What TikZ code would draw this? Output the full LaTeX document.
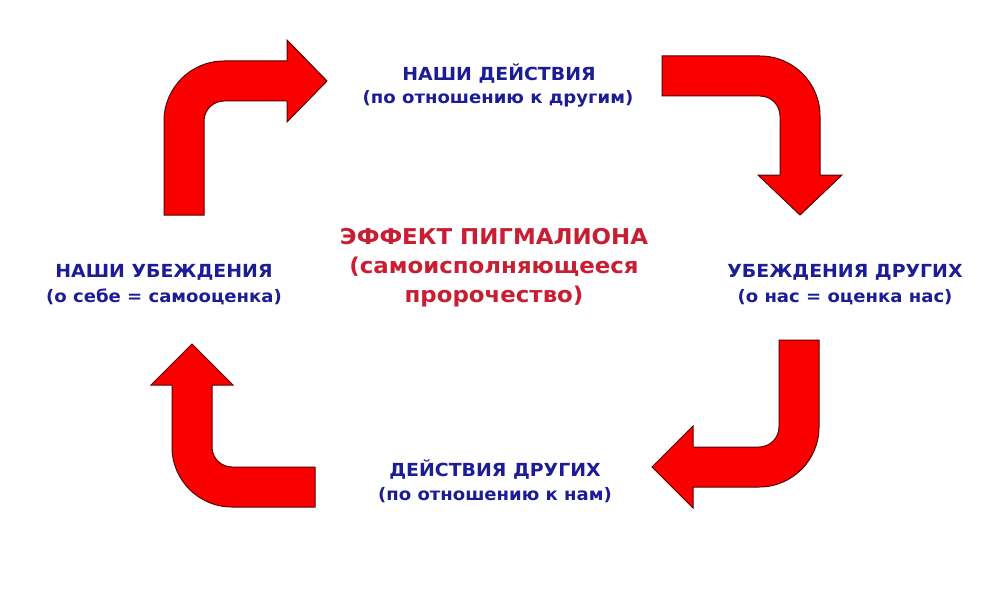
\documentclass[tikz,border=0pt]{standalone}
\usepackage{fontspec}
\newfontfamily\lab{DejaVu Sans Bold}[FakeStretch=1.05]
\definecolor{labblue}{RGB}{28,28,150}
\definecolor{labred}{RGB}{200,30,50}
\definecolor{arrred}{RGB}{250,0,0}
\definecolor{arredge}{RGB}{90,0,0}
\begin{document}
\begin{tikzpicture}[x=1pt,y=-1pt,
  bigarrow/.style={fill=arrred,draw=arredge,line width=1pt,line join=miter},
  lbl/.style={text=labblue,font=\lab\fontsize{18}{22}\selectfont,inner sep=0pt,anchor=center},
  sub/.style={text=labblue,font=\lab\fontsize{17.2}{21}\selectfont,inner sep=0pt,anchor=center},
  ctr/.style={text=labred,font=\lab\fontsize{21.8}{26}\selectfont,inner sep=0pt,anchor=center}]
\useasboundingbox[fill=white] (0,0) rectangle (1000,591);
% top-left arrow
\path[bigarrow] (164,215) -- (164,121) arc[start angle=180,end angle=270,radius=60]
  -- (287,61) -- (287,40) -- (327,81) -- (287,122) -- (287,101) -- (224,101)
  arc[start angle=270,end angle=180,radius=20] -- (204,215) -- cycle;
% top-right arrow
\path[bigarrow] (662,56) -- (760,56) arc[start angle=270,end angle=360,radius=60]
  -- (820,175) -- (842,175) -- (800,215) -- (758,175) -- (780,175) -- (780,116)
  arc[start angle=0,end angle=-90,radius=20] -- (662,96) -- cycle;
% bottom-right arrow
\path[bigarrow] (779,340) -- (779,427) arc[start angle=0,end angle=90,radius=20]
  -- (693,447) -- (693,426) -- (652,467) -- (693,508) -- (693,487) -- (759,487)
  arc[start angle=90,end angle=0,radius=60] -- (819,340) -- cycle;
% bottom-left arrow
\path[bigarrow] (315,467) -- (232,467) arc[start angle=90,end angle=180,radius=20]
  -- (212,385) -- (233,385) -- (192,344) -- (151,385) -- (172,385) -- (172,447)
  arc[start angle=180,end angle=90,radius=60] -- (315,507) -- cycle;
% labels
\node[lbl] (top) at (499,74) {НАШИ ДЕЙСТВИЯ};
\node[sub] (tops) at (498,99) {(по отношению к другим)};
\node[ctr] (c1) at (494,237) {ЭФФЕКТ ПИГМАЛИОНА};
\node[ctr] (c2) at (494,267) {(самоисполняющееся};
\node[ctr] (c3) at (494,296) {пророчество)};
\node[lbl] (left) at (164,272) {НАШИ УБЕЖДЕНИЯ};
\node[sub] (lefts) at (164,297) {(о себе = самооценка)};
\node[lbl] (right) at (845,272) {УБЕЖДЕНИЯ ДРУГИХ};
\node[sub] (rights) at (845,297) {(о нас = оценка нас)};
\node[lbl] (bot) at (495,470) {ДЕЙСТВИЯ ДРУГИХ};
\node[sub] (bots) at (495,495) {(по отношению к нам)};
\end{tikzpicture}
\end{document}
